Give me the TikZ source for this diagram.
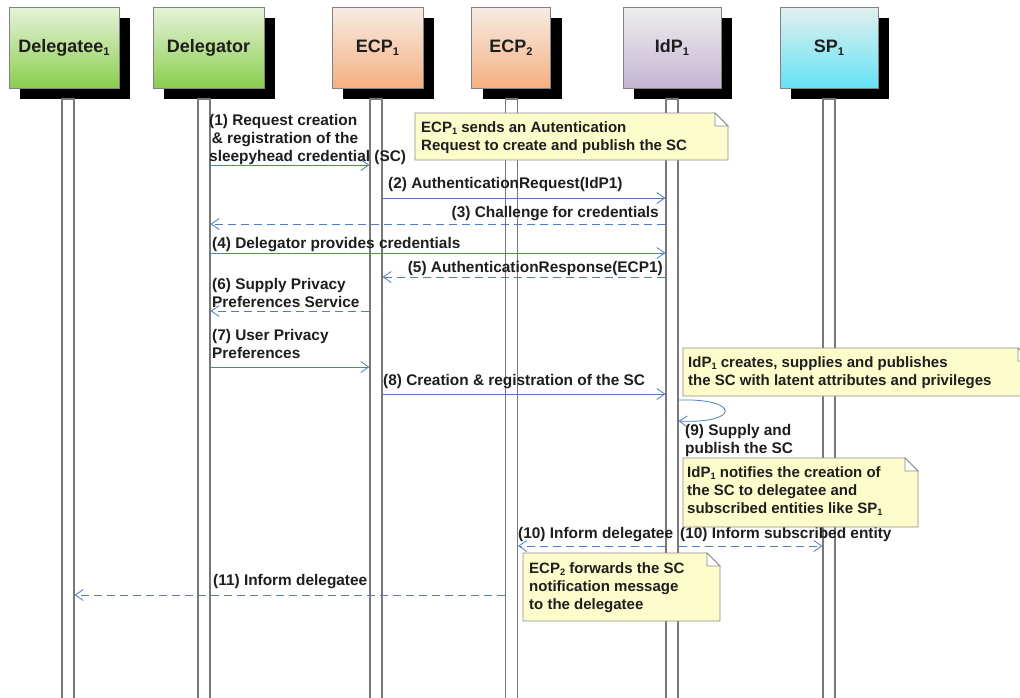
\documentclass[tikz,border=0pt]{standalone}
\usepackage{graphicx}
\usepackage{fontspec}
\setmainfont{Liberation Sans}
\usetikzlibrary{arrows.meta,shadows}

\definecolor{msgblue}{RGB}{79,125,190}
\definecolor{inkgray}{RGB}{30,30,30}
\definecolor{lifegray}{RGB}{120,120,120}
\definecolor{boxgray}{RGB}{130,130,130}
\definecolor{notefillc}{RGB}{253,253,204}
\definecolor{notedraw}{RGB}{140,140,140}
\definecolor{greentop}{RGB}{230,243,218}
\definecolor{greenbot}{RGB}{138,206,76}
\definecolor{peachtop}{RGB}{246,236,228}
\definecolor{peachbot}{RGB}{245,176,128}
\definecolor{lilactop}{RGB}{238,238,236}
\definecolor{lilacbot}{RGB}{196,180,212}
\definecolor{cyantop}{RGB}{226,240,238}
\definecolor{cyanbot}{RGB}{100,226,246}

% small lowered index, e.g. ECP_1
\newcommand\sbs[1]{\raisebox{-0.35ex}{\scalebox{0.62}{#1}}}

% outline of a note with a folded top-right corner, drawn round node #1
\newcommand\notefold[1]{%
  \filldraw[fill=notefillc, draw=notedraw, line width=0.9pt]
    (#1.north west) -- ([xshift=-13pt]#1.north east)
    -- ([yshift=-13pt]#1.north east) -- (#1.south east)
    -- (#1.south west) -- cycle;
  \filldraw[fill=white, draw=notedraw, line width=0.9pt]
    ([xshift=-13pt]#1.north east) -- ([xshift=-13pt,yshift=-13pt]#1.north east)
    -- ([yshift=-13pt]#1.north east) -- cycle;
}

\begin{document}
\begin{tikzpicture}[x=1pt,y=-1pt,
  hdr/.style={draw=boxgray, line width=0.7pt, minimum height=81pt, inner sep=0pt,
    font=\fontsize{18}{22}\selectfont\bfseries, text=inkgray,
    general shadow={fill=black, shadow xshift=11pt, shadow yshift=-11pt}},
  greenhdr/.style={hdr, top color=greentop, bottom color=greenbot},
  peachhdr/.style={hdr, top color=peachtop, bottom color=peachbot},
  lilachdr/.style={hdr, top color=lilactop, bottom color=lilacbot},
  cyanhdr/.style={hdr, top color=cyantop, bottom color=cyanbot},
  life/.style={draw=lifegray, fill=white, line width=1.1pt, minimum width=12pt,
    minimum height=601pt, inner sep=0pt},
  msg/.style={draw=msgblue, line width=0.8pt, -{Straight Barb[length=8pt,width=11pt]}},
  reply/.style={msg, dash pattern=on 8pt off 5pt},
  lbl/.style={font=\fontsize{15.4}{18}\selectfont\bfseries, text=inkgray, inner sep=0pt, align=left},
  notearea/.style={inner sep=0pt, outer sep=0pt, anchor=north west},
  notetxt/.style={font=\fontsize{15}{18}\selectfont\bfseries, text=inkgray, inner sep=0pt,
    align=left, anchor=base west},
]
\useasboundingbox (0,0) rectangle (1020,697);
\clip (0,0) rectangle (1020,697);
\fill[white] (0,0) rectangle (1020,697);

% participants
\node[greenhdr, minimum width=110pt] (Hdte) at (64,47.5) {Delegatee\sbs{1}};
\node[greenhdr, minimum width=111pt] (Hdgr) at (208.5,47.5) {Delegator};
\node[peachhdr, minimum width=91pt] (Hecpa) at (377.5,47.5) {ECP\sbs{1}};
\node[peachhdr, minimum width=79pt] (Hecpb) at (511,47.5) {ECP\sbs{2}};
\node[lilachdr, minimum width=98pt] (Hidp) at (672,47.5) {IdP\sbs{1}};
\node[cyanhdr, minimum width=98pt] (Hsp) at (829,47.5) {SP\sbs{1}};

% lifelines
\node[life] (Ldte) at (68,399.5) {};
\node[life] (Ldgr) at (204,399.5) {};
\node[life] (Lecpa) at (376,399.5) {};
\node[life] (Lecpb) at (511.5,399.5) {};
\node[life] (Lidp) at (672,399.5) {};
\node[life] (Lsp) at (829,399.5) {};

% message rows
\coordinate (r1) at (0,165);
\coordinate (r2) at (0,198);
\coordinate (r3) at (0,224);
\coordinate (r4) at (0,253);
\coordinate (r5) at (0,277);
\coordinate (r6) at (0,311);
\coordinate (r7) at (0,367);
\coordinate (r8) at (0,394);
\coordinate (r9a) at (0,400);
\coordinate (r9b) at (0,421);
\coordinate (r10) at (0,546);
\coordinate (r11) at (0,595);

% messages
\draw[msg] (Ldgr.east |- r1) -- (Lecpa.west |- r1);
\draw[msg] (Lecpa.east |- r2) -- (Lidp.west |- r2);
\draw[reply] (Lidp.west |- r3) -- (Ldgr.east |- r3);
\draw[msg] (Ldgr.east |- r4) -- (Lidp.west |- r4);
\draw[reply] (Lidp.west |- r5) -- (Lecpa.east |- r5);
\draw[reply] (Lecpa.west |- r6) -- (Ldgr.east |- r6);
\draw[msg] (Ldgr.east |- r7) -- (Lecpa.west |- r7);
\draw[msg] (Lecpa.east |- r8) -- (Lidp.west |- r8);
\draw[msg] (Lidp.east |- r9a) .. controls +(62,-2) and +(62,3) .. (Lidp.east |- r9b);
\draw[reply] (Lidp.west |- r10) -- (Lecpb.east |- r10);
\draw[reply] (Lidp.east |- r10) -- (Lsp.west |- r10);
\draw[reply] (Lecpb.west |- r11) -- (Ldte.east |- r11);

% message labels (multi-line labels are placed by their last baseline)
\node[lbl, anchor=base west] (t1) at (209,161) {(1) Request creation\\\,\& registration of the\\sleepyhead credential (SC)};
\node[lbl, anchor=base west] (t2) at (388,188) {(2) AuthenticationRequest(IdP1)};
\node[lbl, anchor=base east] (t3) at (659,217) {(3) Challenge for credentials};
\node[lbl, anchor=base west] (t4) at (212,248) {(4) Delegator provides credentials};
\node[lbl, anchor=base east] (t5) at (663,272) {(5) AuthenticationResponse(ECP1)};
\node[lbl, anchor=base west] (t6) at (212,307) {(6) Supply Privacy\\Preferences Service};
\node[lbl, anchor=base west] (t7) at (212,358) {(7) User Privacy\\Preferences};
\node[lbl, anchor=base west] (t8) at (383,385) {(8) Creation \& registration of the SC};
\node[lbl, anchor=base west] (t9) at (685,453) {(9) Supply and\\publish the SC};
\node[lbl, anchor=base west] (t10a) at (518,538) {(10) Inform delegatee};
\node[lbl, anchor=base west] (t10b) at (680,538) {(10) Inform subscribed entity};
\node[lbl, anchor=base west] (t11) at (213,585) {(11) Inform delegatee};

% notes
\node[notearea, minimum width=313pt, minimum height=47pt] (N1) at (415,113) {};
\notefold{N1}
\node[notetxt] (N1t) at (421,150) {ECP\sbs{1} sends an Autentication\\Request to create and publish the SC};

\node[notearea, minimum width=348pt, minimum height=48pt] (N2) at (683,348) {};
\notefold{N2}
\node[notetxt] (N2t) at (688,385) {IdP\sbs{1} creates, supplies and publishes\\the SC with latent attributes and privileges};

\node[notearea, minimum width=235pt, minimum height=69pt] (N3) at (683,458) {};
\notefold{N3}
\node[notetxt] (N3t) at (687,513) {IdP\sbs{1} notifies the creation of\\the SC to delegatee and\\subscribed entities like SP\sbs{1}};

\node[notearea, minimum width=197pt, minimum height=68pt] (N4) at (523,553) {};
\notefold{N4}
\node[notetxt] (N4t) at (529,609) {ECP\sbs{2} forwards the SC\\notification message\\to the delegatee};
\end{tikzpicture}
\end{document}
